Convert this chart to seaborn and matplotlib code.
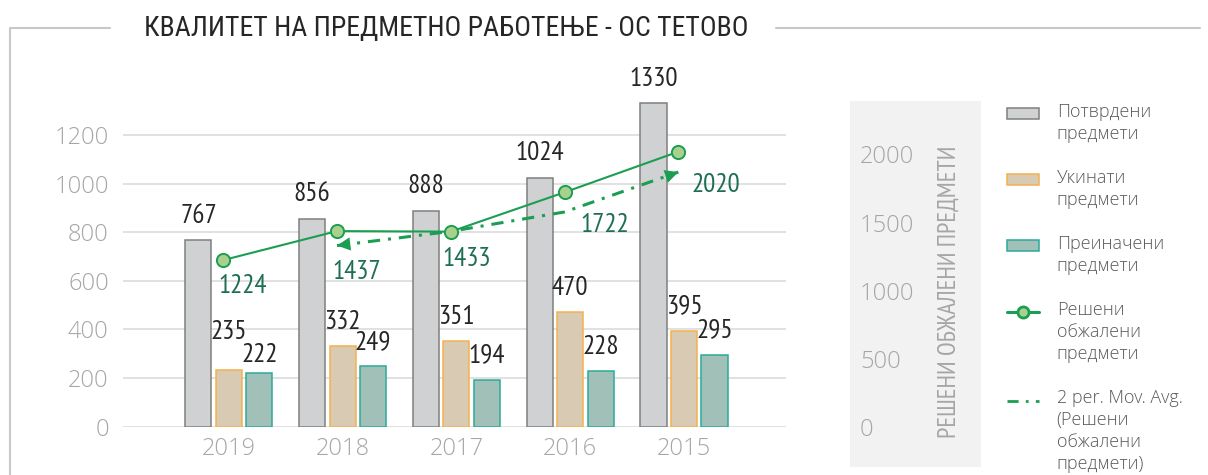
import numpy as np
import pandas as pd
import matplotlib
matplotlib.use('Agg')
import matplotlib.pyplot as plt
import seaborn as sns
from matplotlib.patches import Rectangle, Patch
from matplotlib.lines import Line2D
from matplotlib.transforms import Affine2D
from matplotlib.legend_handler import HandlerPatch, HandlerLine2D

# Податоци (прочитани од графиконот)
godini = ['2019', '2018', '2017', '2016', '2015']
potvrdeni = [767, 856, 888, 1024, 1330]
ukinati = [235, 332, 351, 470, 395]
preinaceni = [222, 249, 194, 228, 295]
reseni = [1224, 1437, 1433, 1722, 2020]

serii = ['Потврдени предмети', 'Укинати предмети', 'Преиначени предмети']
naslov = 'КВАЛИТЕТ НА ПРЕДМЕТНО РАБОТЕЊЕ - ОС ТЕТОВО'
oznaka_desno = 'РЕШЕНИ ОБЖАЛЕНИ ПРЕДМЕТИ'

# Бои
polnenje = ['#d0d1d3', '#d9cab3', '#a1c1b8']
rabovi = ['#7f7f7f', '#f5b14c', '#2aab9b']
zelena = '#1c9e52'
svetlo_zelena = '#a9d18e'
temno_zelena = '#1e6e55'
siva_tekst = '#a6a6a6'

TESNO = ['PT Sans Narrow', 'Roboto Condensed', 'Liberation Sans', 'DejaVu Sans']
NASLOV_FONT = ['Roboto Condensed', 'PT Sans Narrow', 'Liberation Sans', 'DejaVu Sans']
OBICNO = ['Open Sans', 'DejaVu Sans']

sns.set_style('white')
plt.rcParams['font.family'] = OBICNO
plt.rcParams['font.weight'] = 'light'

W, H = 1208, 475
fig = plt.figure(figsize=(W / 100, H / 100), dpi=100)
ax = fig.add_axes([122.7 / W, 1 - 426.7 / H, 663 / W, 340.3 / H])
ax.set_facecolor('none')

# Столбови
df = pd.DataFrame({
    'godina': godini * 3,
    'serija': np.repeat(serii, len(godini)),
    'vrednost': potvrdeni + ukinati + preinaceni,
})
sns.barplot(data=df, x='godina', y='vrednost', hue='serija', order=godini,
            hue_order=serii, palette=polnenje, saturation=1, width=0.804,
            gap=0.146, errorbar=None, linewidth=1.1, legend=False, ax=ax)

for cont, rab in zip(ax.containers, rabovi):
    for bar in cont:
        bar.set_edgecolor(rab)
    etiketi = ax.bar_label(cont, padding=9, fontsize=19.5, family=TESNO,
                           fontweight='normal', color='#262626')
    if rab == rabovi[1]:
        etiketi[0].xyann = (0, 18.5)
    if rab == rabovi[2]:
        etiketi[0].xyann = (0, 4)

ax.set_xlim(-0.934, 4.894)
ax.set_ylim(0, 1400)
ax.set_yticks(range(0, 1201, 200))
ax.grid(axis='y', color='#d9d9d9', lw=1.1)
ax.set_axisbelow(True)
for s in ax.spines.values():
    s.set_visible(False)
ax.tick_params(axis='y', length=0, pad=10, labelsize=17, labelcolor=siva_tekst)
ax.tick_params(axis='x', length=0, pad=7.5, labelsize=17, labelcolor=siva_tekst)
ax.set_xlabel('')
ax.set_ylabel('')

# Секундарна оска - решени обжалени предмети
ax2 = ax.twinx()
x_linija = np.arange(len(godini)) - 0.05
sns.lineplot(x=x_linija, y=reseni, ax=ax2, color=zelena, lw=1.5, marker='o',
             markersize=9.5, markerfacecolor=svetlo_zelena, markeredgecolor=zelena,
             markeredgewidth=1.4, zorder=5)

mov_avg = pd.Series(reseni).rolling(2).mean().to_numpy()
crta_tocka = (0, (4, 2.6, 1, 2.6))
ax2.plot(x_linija[1:], mov_avg[1:], color=zelena, lw=2.2, linestyle=crta_tocka, zorder=4)
for kraj, pred in ((1, 2), (4, 3)):
    xy = (x_linija[kraj], mov_avg[kraj])
    od = (xy[0] + 0.02 * (x_linija[pred] - xy[0]), xy[1] + 0.02 * (mov_avg[pred] - xy[1]))
    ax2.annotate('', xy=xy, xytext=od,
                 arrowprops=dict(arrowstyle='-|>', mutation_scale=24, color=zelena,
                                 lw=0, shrinkA=0, shrinkB=0), zorder=4)

pomestuvanja = [(-3.6, -23.8), (-3.6, -34.5), (-5.8, -24.5), (11.5, -28.8), (9.4, -28.8)]
for xi, yi, (dx, dy) in zip(x_linija, reseni, pomestuvanja):
    ax2.annotate(str(yi), xy=(xi, yi), xytext=(dx, dy), textcoords='offset points',
                 ha='left', va='baseline', fontsize=19.5, family=TESNO,
                 fontweight='normal', color=temno_zelena)

ax2.set_ylim(0, 2500)
ax2.set_yticks(range(0, 2001, 500))
ax2.grid(False)
for s in ax2.spines.values():
    s.set_visible(False)
ax2.tick_params(axis='y', length=0, pad=53.5, labelsize=17, labelcolor=siva_tekst)
ax2.set_ylabel(oznaka_desno, fontsize=18, family=TESNO, fontweight='normal', color=siva_tekst)
ax2.yaxis.label.set_va('center')
ax2.yaxis.set_label_coords((949 - 122.7) / 663, (426.7 - 291.7) / 340.3)

# Сива подлога зад секундарната оска
fig.add_artist(Rectangle((850 / W, 1 - 466.7 / H), 130.7 / W, 365.7 / H,
                         transform=fig.transFigure, facecolor='#f2f2f3',
                         edgecolor='none', zorder=-1))

# Рамка и наслов
ramka = '#c8c8c8'
fig.add_artist(Line2D([10 / W, 10 / W, 110 / W], [0, 1 - 28.3 / H, 1 - 28.3 / H],
                      transform=fig.transFigure, color=ramka, lw=1.5))
fig.add_artist(Line2D([776 / W, 1200 / W], [1 - 28.3 / H, 1 - 28.3 / H],
                      transform=fig.transFigure, color=ramka, lw=1.5))
fig.text(446.5 / W, 1 - 28.5 / H, naslov, ha='center', va='center', fontsize=20,
         family=NASLOV_FONT, fontweight='normal', color='#262626')


# Легенда - симболот е порамнет со првиот ред од текстот
def pomesten(osnova, pomest):
    class Rakuvac(osnova):
        def create_artists(self, legend, orig_handle, xdescent, ydescent,
                           width, height, fontsize, trans):
            t = Affine2D().translate(0, pomest) + trans
            return super().create_artists(legend, orig_handle, xdescent, ydescent,
                                          width, height, fontsize, t)
    return Rakuvac()


rakuvaci = [Patch(facecolor=f, edgecolor=r, lw=1.1) for f, r in zip(polnenje, rabovi)]
rakuvaci.append(Line2D([], [], color=zelena, lw=2.2, marker='o', markersize=8,
                       markerfacecolor=svetlo_zelena, markeredgecolor=zelena, markeredgewidth=2))
rakuvaci.append(Line2D([], [], color=zelena, lw=2, linestyle=crta_tocka))
natpisi = ['Потврдени\nпредмети', 'Укинати\nпредмети', 'Преиначени\nпредмети',
           'Решени\nобжалени\nпредмети',
           '2 per. Mov. Avg.\n(Решени\nобжалени\nпредмети)']
mapa = {}
for h, n in zip(rakuvaci, natpisi):
    redovi = n.count('\n')
    osnova = HandlerPatch if isinstance(h, Patch) else HandlerLine2D
    mapa[h] = pomesten(osnova, redovi * 7.56)

leg = fig.legend(rakuvaci, natpisi, loc='upper left', bbox_to_anchor=(1006.7 / W, 1 - 103 / H),
                 bbox_transform=fig.transFigure, frameon=False, borderpad=0, borderaxespad=0,
                 fontsize=13, handlelength=1.8, handleheight=0.55, handletextpad=0.97,
                 labelspacing=1.45, labelcolor='#595959', handler_map=mapa)
for t in leg.get_texts():
    t.set_linespacing(1.28)

fig.savefig('out.png', dpi=100)
